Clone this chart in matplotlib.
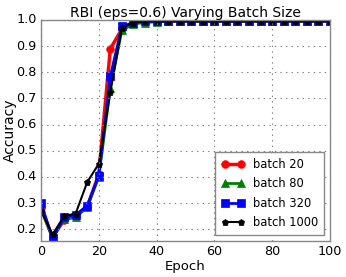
import matplotlib
matplotlib.use("Agg")
import matplotlib.pyplot as plt

epochs = list(range(0, 101, 4))
b20 = [0.28, 0.17, 0.235, 0.25, 0.285, 0.41, 0.89, 0.965, 0.99, 0.995, 0.995, 0.995, 0.995,
       0.995, 0.995, 0.995, 0.995, 0.995, 0.995, 0.995, 0.995, 0.995, 0.995, 0.995, 0.995, 0.995]
b80 = [0.28, 0.165, 0.24, 0.245, 0.285, 0.40, 0.74, 0.96, 0.985, 0.99, 0.993, 0.995, 0.995,
       0.995, 0.995, 0.995, 0.995, 0.995, 0.995, 0.995, 0.995, 0.995, 0.995, 0.995, 0.995, 0.995]
b320 = [0.30, 0.165, 0.245, 0.255, 0.29, 0.405, 0.785, 0.975, 0.99, 0.995, 0.995, 0.997, 0.997,
        0.997, 0.997, 0.997, 0.997, 0.997, 0.997, 0.997, 0.997, 0.997, 0.997, 0.997, 0.997, 0.997]
b1000 = [0.27, 0.18, 0.25, 0.26, 0.38, 0.45, 0.725, 0.97, 0.99, 0.995, 0.995, 0.995, 0.995,
         0.995, 0.995, 0.995, 0.995, 0.995, 0.995, 0.995, 0.995, 0.995, 0.995, 0.995, 0.995, 0.995]
labels = ["batch 20", "batch 80", "batch 320", "batch 1000"]

plt.style.use("classic")
fig = plt.figure(figsize=(3.46, 2.77), dpi=100, facecolor="white")
ax = fig.add_axes([0.1185, 0.130, 0.835, 0.798])

ax.plot(epochs, b20, color="red", marker="o", lw=2.5, ms=5.5, mec="red", label=labels[0])
ax.plot(epochs, b80, color="green", marker="^", lw=2, ms=5.5, mec="green", label=labels[1])
ax.plot(epochs, b320, color="blue", marker="s", lw=2, ms=5.5, mec="blue", label=labels[2])
ax.plot(epochs, b1000, color="black", marker="p", lw=1.5, ms=5, mec="black", label=labels[3])

ax.set_xlim(0, 100)
ax.set_ylim(0.155, 1.0)
ax.set_xticks([0, 20, 40, 60, 80, 100])
ax.set_yticks([0.2, 0.3, 0.4, 0.5, 0.6, 0.7, 0.8, 0.9, 1.0])
ax.grid(True, color="gray", linestyle=":", lw=0.8)
for s in ax.spines.values():
    s.set_color("#888888")
ax.tick_params(labelsize=9.2, direction="in", length=0, pad=3)
ax.set_xlabel("Epoch", fontsize=9.5, labelpad=1)
ax.set_ylabel("Accuracy", fontsize=10, labelpad=0)
ax.set_title("RBI (eps=0.6) Varying Batch Size", fontsize=10, pad=2)
leg = ax.legend(loc="lower right", fontsize=8.3, numpoints=2, handlelength=2, borderpad=0.55,
                labelspacing=0.55, handletextpad=0.7, fancybox=False)
leg.get_frame().set_edgecolor("#888888")

fig.savefig("out.png", dpi=100, facecolor="white")
